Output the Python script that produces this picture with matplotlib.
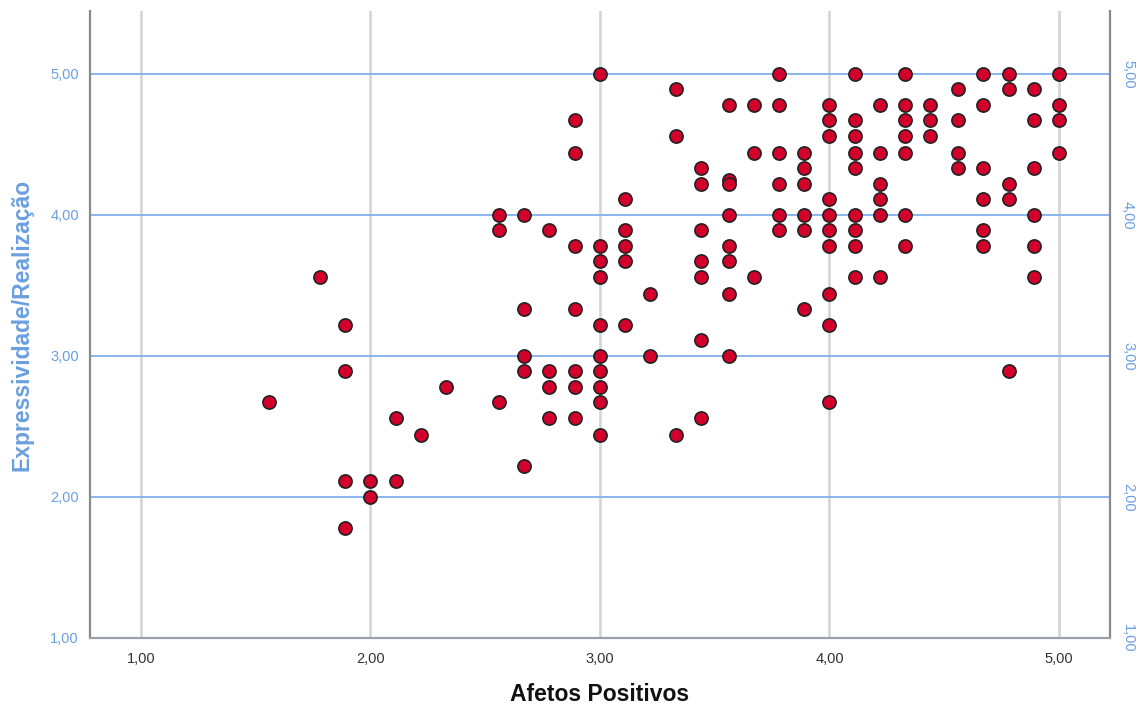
import numpy as np
import matplotlib.pyplot as plt

plt.rcParams['font.family'] = ['Liberation Sans', 'DejaVu Sans']

# valores (afetos positivos -> lista de expressividade)
colunas = {
    1.56: [2.67],
    1.78: [3.56],
    1.89: [3.22, 2.89, 2.11, 1.78],
    2.00: [2.11, 2.00],
    2.11: [2.56, 2.11],
    2.22: [2.44],
    2.33: [2.78],
    2.56: [4.00, 3.89, 2.67],
    2.67: [4.00, 3.33, 3.00, 2.89, 2.22],
    2.78: [3.89, 2.89, 2.78, 2.56],
    2.89: [4.67, 4.44, 3.78, 3.33, 2.89, 2.78, 2.56],
    3.00: [5.00, 3.78, 3.67, 3.56, 3.22, 3.00, 2.89, 2.78, 2.67, 2.44],
    3.11: [4.11, 3.89, 3.78, 3.67, 3.22],
    3.22: [3.44, 3.00],
    3.33: [4.89, 4.56, 2.44],
    3.44: [4.33, 4.22, 3.89, 3.67, 3.56, 3.11, 2.56],
    3.56: [4.78, 4.25, 4.22, 4.00, 3.78, 3.67, 3.44, 3.00],
    3.67: [4.78, 4.44, 3.56],
    3.78: [5.00, 4.78, 4.44, 4.22, 4.00, 3.89],
    3.89: [4.44, 4.33, 4.22, 4.00, 3.89, 3.33],
    4.00: [4.78, 4.67, 4.56, 4.11, 4.00, 3.89, 3.78, 3.44, 3.22, 2.67],
    4.11: [5.00, 4.67, 4.56, 4.44, 4.33, 4.00, 3.89, 3.78, 3.56],
    4.22: [4.78, 4.44, 4.22, 4.11, 4.00, 3.56],
    4.33: [5.00, 4.78, 4.67, 4.56, 4.44, 4.00, 3.78],
    4.44: [4.78, 4.67, 4.56],
    4.56: [4.89, 4.67, 4.44, 4.33],
    4.67: [5.00, 4.78, 4.33, 4.11, 3.89, 3.78],
    4.78: [5.00, 4.89, 4.22, 4.11, 2.89],
    4.89: [4.89, 4.67, 4.33, 4.00, 3.78, 3.56],
    5.00: [5.00, 4.78, 4.67, 4.44],
}

x = []
y = []
for k, v in colunas.items():
    for val in v:
        x.append(k)
        y.append(val)

ticks = [1, 2, 3, 4, 5]
rotulos = ['1,00', '2,00', '3,00', '4,00', '5,00']

azul = '#6a9fe0'
fig = plt.figure(figsize=(11.45, 7.11), dpi=100)
ax = fig.add_axes([0.0786, 0.1027, 0.8908, 0.8818])

ax.set_xlim(0.778, 5.222)
ax.set_ylim(1.0, 5.446)

# grades
for t in ticks:
    ax.axvline(t, color='#d6d6d6', lw=2, zorder=1)
for t in [2, 3, 4, 5]:
    ax.axhline(t, color='#8ab4ec', lw=1.4, zorder=1)

ax.scatter(x, y, s=90, c='#d2002b', edgecolors='#222222', linewidths=1.2, zorder=3)

ax.set_xticks(ticks)
ax.set_xticklabels(rotulos, color='#333333', fontsize=10.5)
ax.set_yticks(ticks)
ax.set_yticklabels(rotulos, color=azul, fontsize=10.5)
ax.tick_params(axis='both', length=0)
ax.tick_params(axis='x', pad=10)
ax.tick_params(axis='y', pad=8)

ax.set_xlabel('Afetos Positivos', fontsize=16.5, fontweight='bold', color='#111111', labelpad=12)
ax.set_ylabel('Expressividade/Realização', fontsize=16.5, fontweight='bold', color=azul, labelpad=12)

ax.spines['top'].set_visible(False)
for s in ['left', 'right']:
    ax.spines[s].set_color('#8a8a8a')
    ax.spines[s].set_linewidth(1.6)
ax.spines['bottom'].set_color('#9aa0a8')
ax.spines['bottom'].set_linewidth(1.6)

ax2 = ax.twinx()
ax2.set_ylim(ax.get_ylim())
ax2.set_yticks(ticks)
ax2.set_yticklabels(rotulos, color=azul, fontsize=10.5, rotation=-90, va='center')
ax2.tick_params(axis='y', length=0, pad=8)
for s in ['top', 'left', 'right', 'bottom']:
    ax2.spines[s].set_visible(False)

plt.savefig('out.png')
